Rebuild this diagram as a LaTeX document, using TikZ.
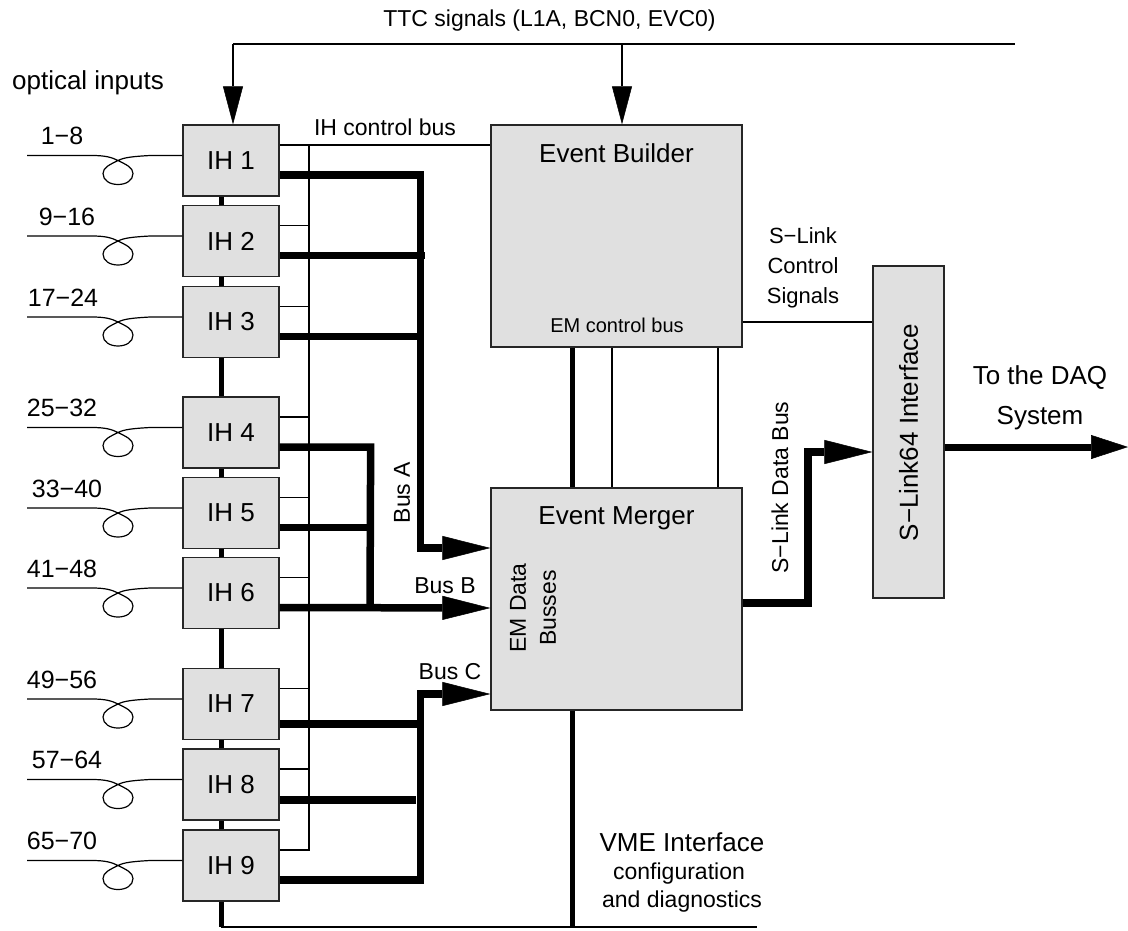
\documentclass[tikz,border=0pt]{standalone}
\usepackage{fontspec}
\setmainfont{Liberation Sans}
\usetikzlibrary{arrows.meta,calc,backgrounds}
\definecolor{boxgray}{RGB}{224,224,224}
\begin{document}
\begin{tikzpicture}[x=1pt,y=-1pt,
  box/.style={draw=black!85, line width=1.3pt, fill=boxgray, inner sep=0pt,
    minimum width=96pt, minimum height=71pt, font=\fontsize{26}{30}\selectfont},
  bigbox/.style={draw=black!85, line width=1.3pt, fill=boxgray, inner sep=0pt,
    minimum width=251pt, minimum height=222pt},
  slbox/.style={draw=black!85, line width=1.3pt, fill=boxgray, inner sep=0pt,
    minimum width=71pt, minimum height=332pt},
  txt/.style={inner sep=0pt, font=\fontsize{23}{30}\selectfont, align=center},
  big/.style={inner sep=0pt, font=\fontsize{26}{30}\selectfont, align=center},
  small/.style={inner sep=0pt, font=\fontsize{20}{24}\selectfont, align=center},
  thin/.style={line width=1.2pt},
  med/.style={line width=5pt},
  bus/.style={line width=7.5pt},
  busarrow/.style={bus, -{Triangle[length=48pt,width=24pt,line width=0.5pt]}},
  outarrow/.style={line width=7pt, -{Triangle[length=37pt,width=24pt,line width=0.5pt]}},
  sigarrow/.style={thin, -{Triangle[length=38pt,width=20pt,line width=0.5pt]}},
  fiber/.style={line width=1.2pt}
]
\useasboundingbox (0,0) rectangle (1128,930);

% ---------- boxes ----------
\foreach \i/\c in {1/160.5,2/241,3/322,4/432.5,5/513,6/593,7/704,8/784.5,9/865.5}{
  \node[box] (ih\i) at (231,\c) {IH \i};
}
\node[bigbox] (eb) at (616.5,236) {};
\node[bigbox] (em) at (616.5,599) {};
\node[slbox] (sl) at (908.5,432) {};

% ---------- texts ----------
\node[txt] (ttclbl) at (549.5,21) {TTC signals (L1A, BCN0, EVC0)};
\node[big] (optlbl) at (88,83) {optical inputs};
\node[txt] (ihcb) at (385,127) {IH control bus};
\node[big] (eblbl) at (616.5,153) {Event Builder};
\node[small] (emcb) at (617,325) {EM control bus};
\node[big] (emlbl) at (616.5,518) {Event Merger};
\node[txt, rotate=90] (emdb) at (533,608) {EM Data\\Busses};
\node[txt, font=\fontsize{22}{30}\selectfont] (slcs) at (803,268) {S−Link\\Control\\Signals};
\node[txt, rotate=90] (sldb) at (780,487.5) {S−Link Data Bus};
\node[big, rotate=90] (sllbl) at (908.5,432.5) {S−Link64 Interface};
\node[big, font=\fontsize{26}{40}\selectfont] (daq) at (1040,397.5) {To the DAQ\\System};
\node[txt, rotate=90] (busa) at (402,492.5) {Bus A};
\node[txt] (busb) at (445,586) {Bus B};
\node[txt] (busc) at (450,672) {Bus C};
\node[big] (vme) at (682,842) {VME Interface};
\node[txt] (conf) at (679,874) {configuration};
\node[txt] (diag) at (682,902) {and diagnostics};

\foreach \i/\x/\y/\t in {1/62/136/1−8,2/67/217/9−16,3/63/298/17−24,
   4/62/408/25−32,5/67/489/33−40,6/62/569/41−48,
   7/62/680/49−56,8/67/760/57−64,9/62/841/65−70}{
  \node[big, font=\fontsize{25}{30}\selectfont] (n\i) at (\x,\y) {\t};
}

% ---------- connectors ----------
\begin{pgfonlayer}{background}
  % IH chain (thick) and bottom line
  \coordinate (chaintop) at ([xshift=-10pt]ih1.south);
  \coordinate (chainbot) at (221,927);
  \coordinate (botend) at (757,927);
  \draw[med] (chaintop) -- (chainbot);
  \draw[thin] (chainbot) -- (botend);
  % control bus
  \coordinate (cbtop) at (309,145);
  \coordinate (cbbot) at (309,850);
  \draw[thin] (cbtop) -- (cbbot);
  \draw[thin] ([yshift=15.5pt]ih1.east) -- (eb.west |- cbtop);
  \foreach \i in {2,...,9}{
    \draw[thin] ([yshift=15.5pt]ih\i.east) -- ++(30,0);
  }
\end{pgfonlayer}

% fibers
\foreach \i/\c in {1/160.5,2/241,3/322,4/432.5,5/513,6/593,7/704,8/784.5,9/865.5}{
  \draw[fiber] (27,\c-5) -- (92,\c-5)
    .. controls (106,\c-5) and (112,\c-3) .. (118,\c)
    .. controls (126,\c+4) and (133,\c+7) .. (133,\c+13)
    .. controls (133,\c+20) and (126,\c+24) .. (118,\c+24)
    .. controls (110,\c+24) and (103,\c+20) .. (103,\c+13)
    .. controls (103,\c+7) and (110,\c+4) .. (118,\c)
    .. controls (124,\c-3) and (132,\c-4) .. (150,\c-5)
    -- ([yshift=5pt]ih\i.west);
}

% TTC
\coordinate (ttcL) at (233,44);
\coordinate (ttcM) at (622,44);
\coordinate (ttcR) at (1015,44);
\draw[thin] (ttcL) -- (ttcR);
\draw[sigarrow] (ttcL) -- (ttcL |- ih1.north);
\draw[sigarrow] (ttcM) -- (ttcM |- eb.north);

% Bus A
\draw[busarrow] ([yshift=-14.5pt]ih1.east) -- ++(141,0) |- (em.west |- 0,548);
\draw[bus] ([yshift=-14.5pt]ih2.east) -- ++(145,0);
\draw[bus] ([yshift=-14.5pt]ih3.east) -- ++(141,0);
% Bus B
\draw[bus] ([yshift=-14.5pt]ih4.east) -- ++(91,0) -- (370,608);
\draw[bus] ([yshift=-14.5pt]ih5.east) -- ++(91,0);
\draw[busarrow] ([yshift=-14.5pt]ih6.east) -- (em.west |- 0,608);
% Bus C
\draw[busarrow] ([yshift=-14.5pt]ih9.east) -- ++(141,0) |- (em.west |- 0,694);
\draw[bus] ([yshift=-20pt]ih7.east) -- ++(141,0);
\draw[bus] ([yshift=-15.5pt]ih8.east) -- ++(136,0);

% EB - EM
\draw[med] (eb.south -| 572,0) -- (em.north -| 572,0);
\draw[thin] (eb.south -| 612,0) -- (em.north -| 612,0);
\draw[thin] (eb.south -| 718,0) -- (em.north -| 718,0);
% VME
\draw[med] (em.south -| 572,0) -- (572,927);
% S-Link control
\draw[thin] (eb.east |- 0,322) -- (sl.west |- 0,322);
% S-Link data bus
\draw[busarrow] (em.east |- 0,603) -- (808,603) -- (808,452) -- (sl.west |- 0,452);
% output
\draw[outarrow] (sl.east |- 0,447) -- (1128,447);
\end{tikzpicture}
\end{document}
